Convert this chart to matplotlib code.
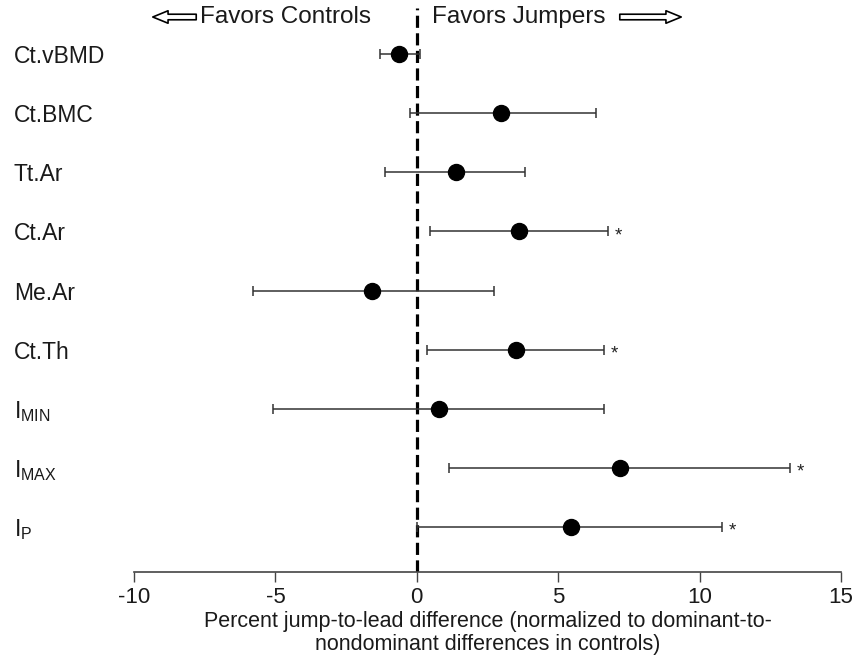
import matplotlib
matplotlib.use("Agg")
import matplotlib.pyplot as plt
from matplotlib.patches import FancyArrowPatch

plt.rcParams['font.family'] = ['Liberation Sans', 'DejaVu Sans']
plt.rcParams['mathtext.fontset'] = 'custom'
plt.rcParams['mathtext.rm'] = 'Liberation Sans'

labels = ['Ct.vBMD', 'Ct.BMC', 'Tt.Ar', 'Ct.Ar', 'Me.Ar', 'Ct.Th',
          r'$\mathregular{I_{MIN}}$', r'$\mathregular{I_{MAX}}$', r'$\mathregular{I_{P}}$']
means = [-0.64, 2.99, 1.38, 3.62, -1.59, 3.52, 0.78, 7.18, 5.45]
lower = [-1.30, -0.25, -1.13, 0.48, -5.80, 0.37, -5.09, 1.13, 0.0]
upper = [0.12, 6.33, 3.82, 6.75, 2.72, 6.61, 6.61, 13.19, 10.78]
significant = [False, False, False, True, False, True, False, True, True]
xticks = [-10, -5, 0, 5, 10, 15]

fig = plt.figure(figsize=(8.56, 6.63), dpi=100)
ax = fig.add_axes([134/856, 1-572/663, (841-134)/856, (572-8)/663])

ypos = list(range(len(labels)))
err_lo = [m - l for m, l in zip(means, lower)]
err_hi = [u - m for m, u in zip(means, upper)]

ax.errorbar(means, ypos, xerr=[err_lo, err_hi], fmt='o', color='black',
            ecolor='#333333', elinewidth=1.1, capsize=3.3, capthick=1.1,
            markersize=11.5, zorder=3)

ax.axvline(0, color='black', lw=2.3, linestyle=(0, (3.8, 1.7)), zorder=2)

for y, hi, s in zip(ypos, upper, significant):
    if s:
        ax.annotate('*', xy=(hi, y), xytext=(5, 3), textcoords='offset points',
                    ha='left', va='top', fontsize=13.5, color='#222222')

ax.set_xlim(-10, 15)
ax.set_ylim(8 + 45/59.1, -46/59.1)
ax.set_xticks(xticks)
ax.set_xticklabels([str(t) for t in xticks], fontsize=16)
ax.set_yticks(ypos)
ax.set_yticklabels(labels, fontsize=16.5, ha='left', color='#1a1a1a')
ax.tick_params(axis='y', length=0, pad=86.5)
ax.tick_params(axis='x', length=7, width=1, color='#444444', pad=4, direction='out',
               labelcolor='#1a1a1a')

for sp in ['top', 'right', 'left']:
    ax.spines[sp].set_visible(False)
ax.spines['bottom'].set_color('#444444')
ax.spines['bottom'].set_linewidth(1.2)

ax.set_xlabel('Percent jump-to-lead difference (normalized to dominant-to-\nnondominant differences in controls)',
              fontsize=15.5, labelpad=2, linespacing=1.1, color='#1a1a1a')

# header
fig.text(200/856, 1-17/663, 'Favors Controls', fontsize=17.5, ha='left', va='center', color='#1a1a1a')
fig.text(432/856, 1-17/663, 'Favors Jumpers', fontsize=17.5, ha='left', va='center', color='#1a1a1a')
fig.add_artist(FancyArrowPatch((199/856, 1-17/663), (150/856, 1-17/663),
               transform=fig.transFigure, arrowstyle='simple,head_width=9,head_length=11,tail_width=4',
               fc='white', ec='black', lw=1.2, mutation_scale=1))
fig.add_artist(FancyArrowPatch((617/856, 1-17/663), (684/856, 1-17/663),
               transform=fig.transFigure, arrowstyle='simple,head_width=9,head_length=11,tail_width=4',
               fc='white', ec='black', lw=1.2, mutation_scale=1))

fig.savefig('out.png', dpi=100)
